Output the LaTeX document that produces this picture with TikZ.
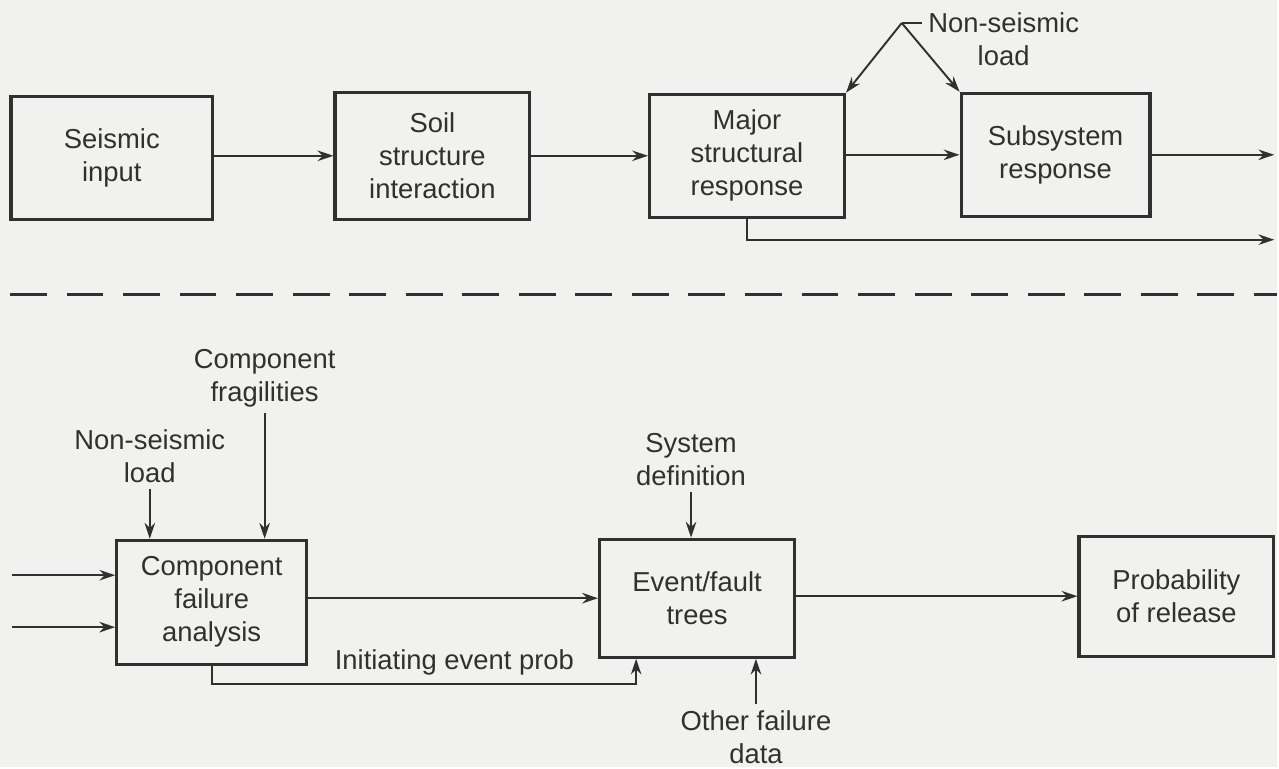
\documentclass[tikz,border=0pt]{standalone}
\usepackage{fontspec}
\setmainfont{Liberation Sans}
\usetikzlibrary{arrows.meta}
\definecolor{paper}{RGB}{241,241,239}
\definecolor{ink}{RGB}{48,48,48}

\tikzset{
    block/.style={draw=ink, line width=0.9pt, align=center, minimum width=1.95cm, minimum height=1.23cm, inner sep=1pt},
    arr/.style={draw=ink, line width=0.55pt, -{Stealth[length=4.5pt,width=3pt]}},
    wire/.style={draw=ink, line width=0.55pt},
    lbl/.style={align=center, inner sep=1.5pt},
}

\begin{document}
\begin{tikzpicture}[x=0.01cm, y=-0.01cm, font=\fontsize{7.8}{9.4}\selectfont, text=ink]
    \fill[paper] (0,0) rectangle (1279,768);

    \node[block, minimum width=2.02cm] (seismic) at (112,158) {Seismic\\input};
    \node[block, minimum height=1.27cm] (soil) at (433,156) {Soil\\structure\\interaction};
    \node[block] (major) at (748,156) {Major\\structural\\response};
    \node[block, minimum width=1.89cm] (subsys) at (1057,155) {Subsystem\\response};

    \node[lbl] (nsltop) at (1005,39) {Non-seismic\\load};
    \coordinate (fork) at (903,23);
    \coordinate (out1) at (1276,155);
    \coordinate (out2) at (1276,240);

    \draw[arr] (seismic.east |- soil) -- (soil.west);
    \draw[arr] (soil.east) -- (soil.east -| major.west);
    \draw[arr] (major.east |- subsys) -- (subsys.west);
    \draw[arr] (subsys.east) -- (out1);
    \draw[arr] (major.south) |- (out2);

    \draw[wire] (fork) -- (fork -| nsltop.west);
    \draw[arr] (fork) -- (major.north east);
    \draw[arr] (fork) -- (subsys.north west);

    \draw[ink, line width=1pt, dash pattern=on 10.5pt off 5.6pt] (10,295) -- (1279,295);

    \node[block, minimum width=1.9cm, minimum height=1.24cm] (comp) at (212,603) {Component\\failure\\analysis};
    \node[block, minimum height=1.18cm] (event) at (698,599) {Event/fault\\trees};
    \node[block, minimum height=1.2cm] (prob) at (1178,597) {Probability\\of release};

    \node[lbl] (nslbot) at (150,457) {Non-seismic\\load};
    \node[lbl] (frag) at (265,379) {Component\\fragilities};
    \node[lbl] (sysdef) at (692,460) {System\\definition};
    \node[lbl] (other) at (757,738) {Other failure\\data};
    \node[lbl] (initlbl) at (455,663) {Initiating event prob};

    \coordinate (in1) at (12,576);
    \coordinate (in2) at (12,628);
    \coordinate (ibend) at (637,685);

    \draw[arr] (in1) -- (in1 -| comp.west);
    \draw[arr] (in2) -- (in2 -| comp.west);
    \draw[arr] (nslbot.south) -- (nslbot.south |- comp.north);
    \draw[arr] (frag.south) -- (frag.south |- comp.north);
    \draw[arr] (comp.east |- event) -- (event.west);
    \draw[arr] (comp.south) |- (ibend) -- (ibend |- event.south);
    \draw[arr] (sysdef.south) -- (sysdef.south |- event.north);
    \draw[arr] (other.north) -- (other.north |- event.south);
    \draw[arr] (event.east |- prob) -- (prob.west);
\end{tikzpicture}
\end{document}
